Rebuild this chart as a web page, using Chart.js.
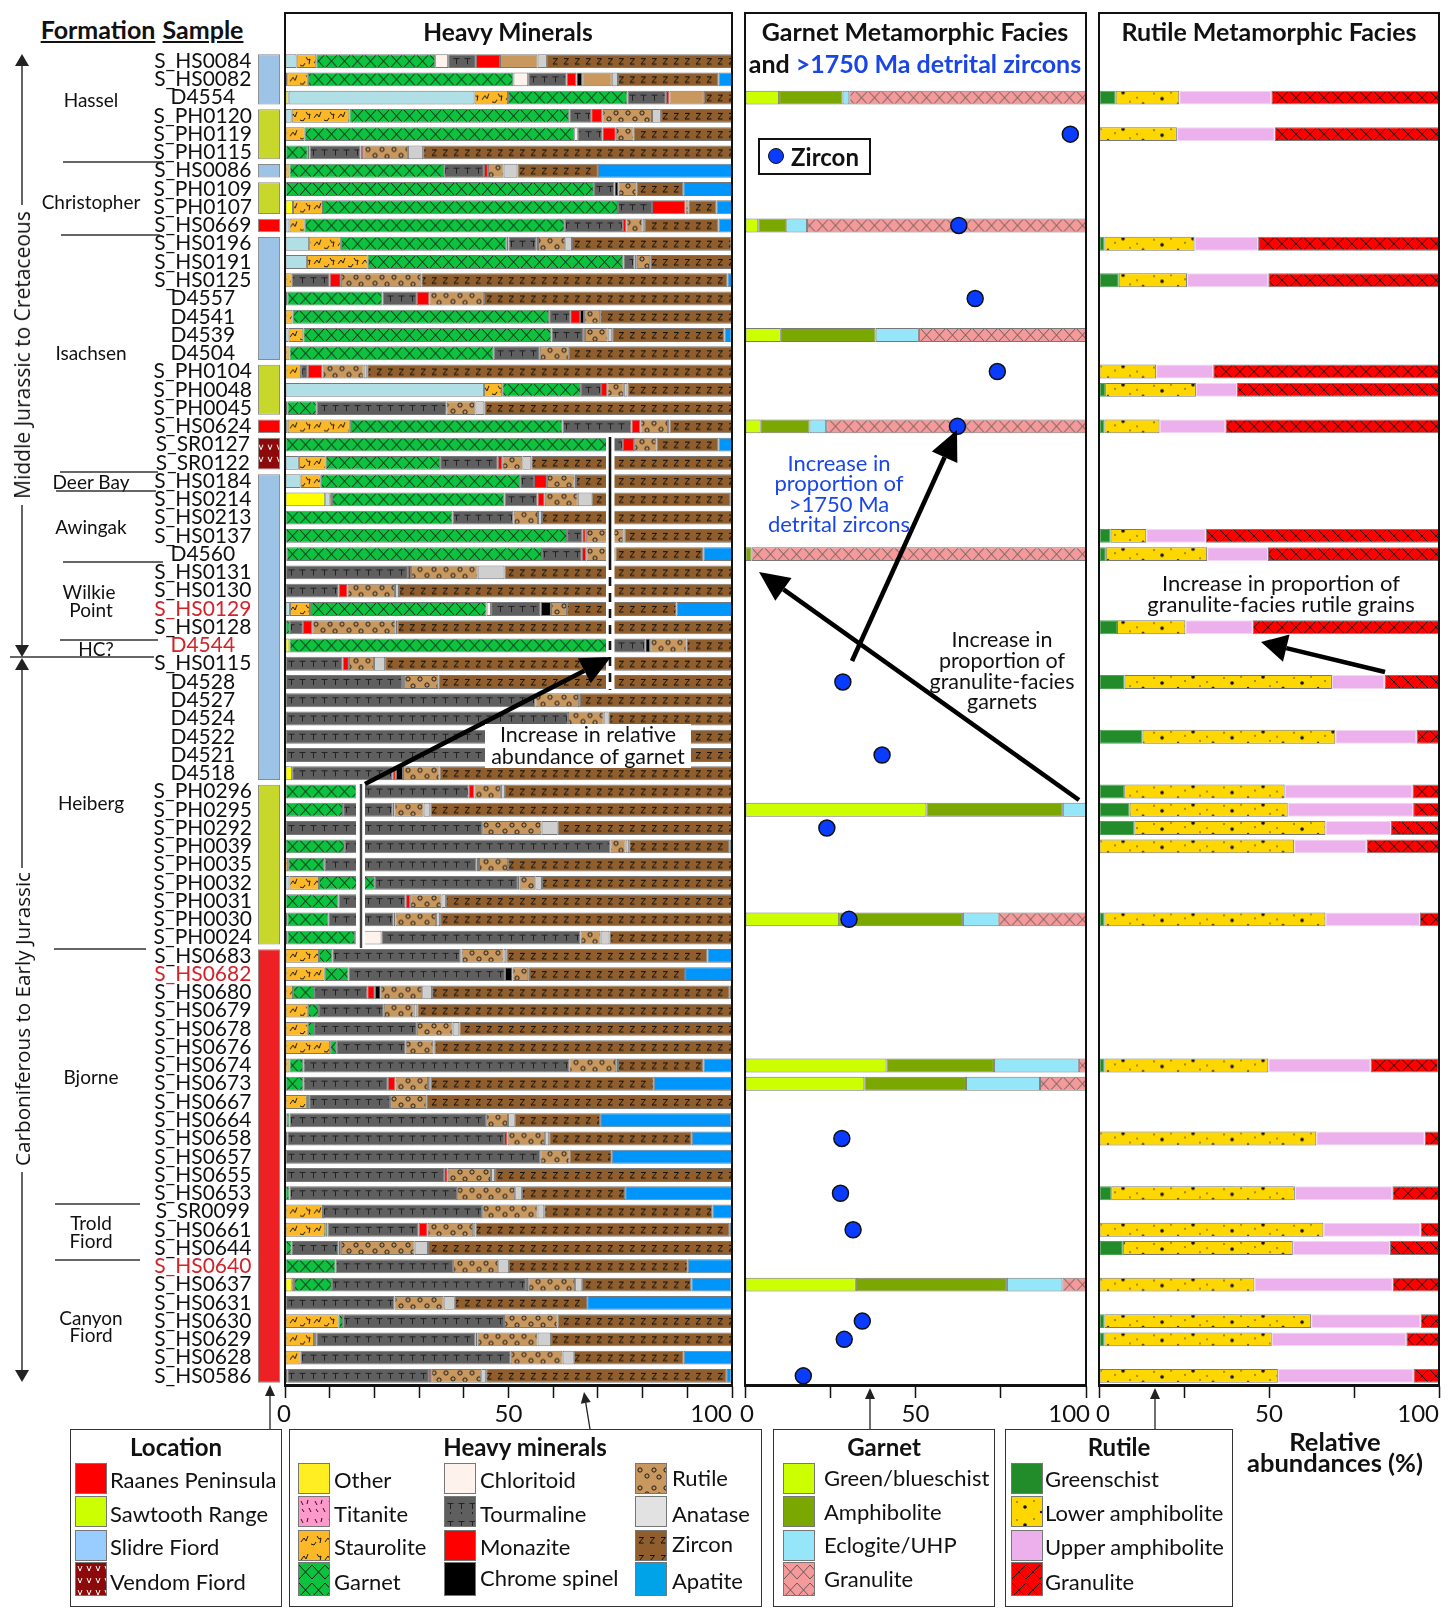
<!DOCTYPE html>
<html>
<head>
<meta charset="utf-8">
<title>Heavy minerals</title>
<script src="https://cdn.jsdelivr.net/npm/chart.js@4/dist/chart.umd.min.js"></script>
<style>
html, body { margin: 0; padding: 0; background: #fff; overflow: hidden; }
#page { position: relative; width: 1449px; height: 1618px; font-family: Lato, sans-serif; color: #111; overflow: hidden; }
#page canvas { position: absolute; }
.frame { position: absolute; border: 2.5px solid #111; box-sizing: border-box; }
.box { position: absolute; border: 1.5px solid #333; box-sizing: border-box; background: #fff; }
.txt { position: absolute; white-space: nowrap; transform: translate(-50%, -50%); }
.lab { position: absolute; white-space: nowrap; transform: translateY(-50%); font-size: 22px; }
#overlay { position: absolute; left: 0; top: 0; }
</style>
</head>
<body>
<div id="page">
    <canvas id="stripChart" width="24" height="1333" style="left:257px;top:52px"></canvas>
    <canvas id="heavyChart" width="760" height="1383" style="left:0;top:52px"></canvas>
    <canvas id="garnetChart" width="381" height="1383" style="left:725px;top:52px"></canvas>
    <canvas id="rutileChart" width="370" height="1383" style="left:1079px;top:52px"></canvas>
</div>
<script>
//---- samples, top to bottom
var samples = ['S_HS0084','S_HS0082','D4554','S_PH0120','S_PH0119','S_PH0115','S_HS0086','S_PH0109','S_PH0107','S_HS0669',
    'S_HS0196','S_HS0191','S_HS0125','D4557','D4541','D4539','D4504','S_PH0104','S_PH0048','S_PH0045',
    'S_HS0624','S_SR0127','S_SR0122','S_HS0184','S_HS0214','S_HS0213','S_HS0137','D4560','S_HS0131','S_HS0130',
    'S_HS0129','S_HS0128','D4544','S_HS0115','D4528','D4527','D4524','D4522','D4521','D4518',
    'S_PH0296','S_PH0295','S_PH0292','S_PH0039','S_PH0035','S_PH0032','S_PH0031','S_PH0030','S_PH0024','S_HS0683',
    'S_HS0682','S_HS0680','S_HS0679','S_HS0678','S_HS0676','S_HS0674','S_HS0673','S_HS0667','S_HS0664','S_HS0658',
    'S_HS0657','S_HS0655','S_HS0653','S_SR0099','S_HS0661','S_HS0644','S_HS0640','S_HS0637','S_HS0631','S_HS0630',
    'S_HS0629','S_HS0628','S_HS0586'];
var redSamples = ['S_HS0129','D4544','S_HS0682','S_HS0640'];

//---- heavy minerals, % per sample
var otherShare = [0,0,.8,0,0,0,0,0,1.8,0, 0,0,0,0,0,0,0,0,0,0, 0,0,0,0,9,0,0,0,0,0, 0,0,1,0,0,0,0,0,0,1.6,
    0,0,0,0,0,0,0,0,0,0, 0,0,0,0,0,0,0,0,0,0, 0,0,0,0,0,0,0,1.5,0,0, 0,0,0];
var paleShare = [2.6,.5,41.6,1.5,0,0,0,0,0,1, 5.4,4.9,0,0,0,.8,0,0,44.5,0, .6,0,3.1,3.5,1,0,0,0,0,0, 1.1,0,0,0,0,0,0,0,0,0,
    0,0,0,0,0,1,0,0,0,0, 0,0,0,0,0,0,0,0,0,0, 0,0,0,0,0,0,0,0,0,0, 0,0,0];
var stauroliteShare = [4.4,4.6,7.5,12.9,4.4,0,1,0,6.7,3.4, 7.1,13.6,1.5,.5,1.7,3.3,1,3.6,4.1,.5, 13.9,0,6,4.5,.5,0,0,.3,0,0, 4.5,0,0,0,0,0,0,0,0,0,
    0,0,0,0,.7,6.6,0,.5,.5,7.6, 8.9,1.8,5.1,5.1,10.1,1,0,4.9,.3,0, 0,0,0,8.5,9,0,0,.5,0,12, 6.5,3.5,0];
var garnetShare = [26.6,46,26.7,49.2,60.3,5.1,34.6,69.1,66,58.2, 37.1,57.2,0,21.3,57.4,55.5,45.7,0,17.6,6.6, 47.6,72.5,25.6,44.6,38.6,37.5,63.1,57.2,0,0, 39.5,1.1,72,0,0,0,0,0,0,0,
    16,13,0,13.4,8.2,12.5,12,9.2,15.2,3, 5.3,4.7,2.5,1.4,1.5,3.1,4.1,.5,.7,.5, 0,0,1,0,.5,1.5,11.3,8.5,0,1, .5,0,.5];
var chloritoidShare = [2.9,3.3,0,0,.8,.4,0,0,0,0, .4,0,0,0,0,0,0,0,0,0, 0,0,0,0,0,0,0,0,0,0, 1,0,0,0,0,0,0,0,0,0,
    0,0,0,0,0,0,0,0,5.9,0, 0,0,0,0,0,0,0,0,0,0, 0,0,0,0,0,0,0,0,0,0, 0,0,0];
var tourmalineShare = [6.2,8.6,8.6,4.9,5.5,11.4,8.9,4.6,7.6,13, 6.2,2.5,8.5,7.7,4.7,7.1,10.3,1.5,4.5,29, 15.4,3.1,12.9,3.1,7.4,13.6,3.4,8.9,27.5,12, 11.1,2.9,7.6,12.9,26.2,56,63.3,46,45,22.5,
    25.1,11.1,44.1,59.4,33.9,32,15,14.6,44.5,28.6, 35,11.9,14.5,23,15.4,59.5,18.9,18.1,44,48.5, 57.1,35.6,37.5,35.6,20.4,10.5,26.3,43.4,24.5,36, 35.6,47,31.7];
var monaziteShare = [5.4,2.2,.8,2.5,3,.6,.9,0,7.5,.8, .4,.5,2.5,2.8,2.2,.4,0,3.3,1.4,0, 2,2.5,1,2.9,1.6,0,.8,1,.7,2, 0,2.1,0,1.4,.4,0,0,0,0,.7,
    1.3,.4,0,0,.6,.4,1,.4,0,.3, 0,1.7,0,0,0,0,1.7,0,0,.8, 0,.8,0,0,2,0,0,0,0,0, 0,0,.5];
var chromeShare = [0,1.3,0,0,0,0,0,.9,0,0, 0,0,0,0,.9,0,0,0,0,0, 0,0,0,0,0,0,0,0,0,0, 2.3,0,1.1,0,0,0,0,0,0,1.6,
    0,0,0,0,0,0,0,0,0,0, 1.7,1.3,0,0,0,0,0,0,0,0, 0,0,0,0,0,.5,0,.5,0,0, .5,0,0];
var rutileShare = [0,0,0,11.1,4,10,3.5,4,.7,3.6, 6.1,3,18,12.2,3.6,5.1,6.5,9.2,3.7,6.5, 6.2,5,4.5,6.2,7.4,5.5,8.4,6.5,14.9,10.6, 3.6,18.6,8.1,5.6,7.7,9.8,8,8,9,8.2,
    5.9,6.5,13.3,3.4,6.5,3.5,7,9.1,4.5,9.4, 3.5,9.3,6.7,8,6.2,10.5,7.3,8.1,4.9,8.4, 6.6,9.7,13,12.4,10.2,16.5,10.1,10.5,11,12, 13.4,11.6,11.2];
var plainRutileShare = [8.4,6.6,7.7,0,0,0,0,0,0,0, 0,0,0,0,0,0,0,0,0,0, 0,0,0,0,0,0,0,0,0,0, 0,0,0,0,0,0,0,0,0,0,
    0,0,0,0,0,0,0,0,0,0, 0,0,0,0,0,0,0,0,0,0, 0,0,0,0,0,0,0,0,0,0, 0,0,0];
var anataseShare = [2.1,1.4,0,2,0,3.4,3.1,0,0,.5, 1.5,0,0,0,0,1,0,.8,.8,2, .3,0,2,.3,3.1,.9,.3,0,6,.9, 0,.4,0,2.5,0,.2,1.1,1,1,0,
    .9,1.5,3.6,.8,0,1.5,1,.9,2,.6, 0,2.2,.8,1.5,.3,.4,.5,0,1.5,.9, 0,.9,1.5,1.5,.5,3,2.4,1.5,2.5,0, 3,2.5,1.1];
var zirconShare = [41.5,22.5,6.3,15.9,22,69.1,18,10.5,6.2,16.5, 35.7,18.3,68.5,55.5,29.5,25.1,36.5,81.6,23.4,55.4, 14,13.9,44.9,35.4,31,42.5,24,19.7,50.9,74.5, 24.5,74.9,10.2,77.6,65.7,34,27.6,45,45,65.4,
    50.8,67.5,39,22.5,50.1,42.5,64,65.3,27.4,45, 35.1,66.6,70.4,61,66.5,19.1,50,68.4,19.1,31.9, 9.4,53,23.1,37.6,56.9,68,40,24.5,29.6,39, 40.5,24.6,53.7];
var apatiteShare = [0,3,0,0,0,0,30,10.9,3.5,3, 0,0,1,0,0,1.6,0,0,0,0, 0,3,0,0,.4,0,0,6.4,0,0, 12.4,0,0,0,0,0,0,0,0,0,
    0,0,0,.5,0,0,0,0,0,5.5, 10.5,.4,0,0,0,6.4,17.5,0,29.4,9, 26.9,0,23.9,4.4,.5,0,9.9,9,32.4,0, 0,10.8,1.2];

//---- garnet metamorphic facies, % per sample
var garnetSamples = ['D4554','S_HS0669','D4539','S_HS0624','D4560','S_PH0295','S_PH0030','S_HS0674','S_HS0673','S_HS0637'];
var garnetBlueschist = [10,3.9,10.5,4.6,0,53.2,27.6,41.5,35,32.5];
var garnetAmphibolite = [18.6,8.2,27.8,14.3,1.9,40,36.3,31.5,29.8,44.3];
var garnetEclogite = [2,6.1,12.7,4.9,0,6.8,10.5,24.9,21.7,16.3];
var garnetGranulite = [69.4,81.8,49,76.2,98.1,0,25.6,2.1,13.5,6.9];

//---- >1750 Ma detrital zircons, %
var zirconSamples = ['S_PH0119','S_HS0669','D4557','S_PH0104','S_HS0624','D4528','D4521','S_PH0292','S_PH0030','S_HS0658','S_HS0653','S_HS0661','S_HS0630','S_HS0629','S_HS0586'];
var oldZircon = [95.4,62.7,67.5,74,62.3,28.7,40.2,24,30.5,28.4,28,31.7,34.4,29.1,17.1];

//---- rutile metamorphic facies, % per sample
var rutileSamples = ['D4554','S_PH0119','S_HS0196','S_HS0125','S_PH0104','S_PH0048','S_HS0624','S_HS0137','D4560','S_HS0128','D4528','D4522',
    'S_PH0296','S_PH0295','S_PH0292','S_PH0039','S_PH0030','S_HS0674','S_HS0658','S_HS0653','S_HS0661','S_HS0644','S_HS0637','S_HS0630','S_HS0629','S_HS0586'];
var rutileGreenschist = [4.9,0,1.6,5.8,0,1.8,1.6,3.4,2,5.3,7.5,12.8, 7.4,9,10.4,0,1.6,1.6,0,3.6,0,7,0,1.6,1.6,0];
var rutileLower = [18.7,22.9,26.5,20.1,16.8,26.7,16.2,10.5,29.8,20.1,61,56.7, 47.2,46.5,56.2,57.4,65,48.2,63.9,54,66,50,45.7,60.8,49.2,52.6];
var rutileUpper = [27.1,28.8,18.7,23.9,16.8,12.1,19.4,17.5,17.9,19.8,15.5,23.9, 37.6,36.9,19.3,21.3,27.8,30.1,31.9,28.7,28.6,28.6,40.7,32.2,39.6,39.9];
var rutileGranulite = [49.3,48.3,53.2,50.2,66.4,59.4,62.8,68.6,50.3,54.8,16,6.6, 7.8,7.6,14.1,21.3,5.6,20,4.2,13.7,5.4,14.4,13.6,5.4,9.6,7.5];

//---- location strip, row spans
var locationStart = [0,3,6,7,9,10,17,20,21,23,40,49];
var locationEnd = [3,6,7,9,10,17,20,21,23,40,49,73];
var locationKind = ['slidre','sawtooth','slidre','sawtooth','raanes','slidre','sawtooth','raanes','vendom','slidre','sawtooth','bjorne'];

var rowH = 1333 / 73;

function tile(w, h, bg, draw) {
    var c = document.createElement('canvas');
    c.width = w;
    c.height = h;
    var g = c.getContext('2d');
    g.fillStyle = bg;
    g.fillRect(0, 0, w, h);
    g.strokeStyle = '#1a1a1a';
    g.fillStyle = '#111';
    g.lineWidth = 1;
    if (draw) draw(g);
    return c;
}
function poly(g, pts) {
    g.beginPath();
    g.moveTo(pts[0], pts[1]);
    for (var i = 2; i < pts.length; i += 2) g.lineTo(pts[i], pts[i + 1]);
    g.stroke();
}
function cross(g, w) {
    poly(g, [0, 2, w, 16]);
    poly(g, [w, 2, 0, 16]);
}
function dots(g, list) {
    list.forEach(function (d) {
        g.beginPath();
        g.arc(d[0], d[1], d[2], 0, Math.PI * 2);
        g.fill();
    });
}
function rings(g, list) {
    list.forEach(function (d) {
        g.beginPath();
        g.arc(d[0], d[1], 2.1, 0, Math.PI * 2);
        g.stroke();
    });
}
var tiles = {
    garnet: tile(13, 18, '#0cc23e', function (g) { cross(g, 13); }),
    tourmaline: tile(11, 18, '#5f5f5f', function (g) {
        g.strokeStyle = '#222';
        poly(g, [2.5, 6.5, 8.5, 6.5]);
        poly(g, [5.5, 6.5, 5.5, 12]);
        poly(g, [5.5, 15, 5.5, 17]);
    }),
    zircon: tile(11, 18, '#8f5e2c', function (g) {
        g.strokeStyle = '#111';
        poly(g, [3, 6.5, 7.5, 6.5, 3, 12, 7.5, 12]);
    }),
    rutile: tile(26, 18, '#c8985f', function (g) {
        rings(g, [[4, 6], [11, 12], [18, 6], [23, 13]]);
    }),
    staurolite: tile(24, 18, '#fcb827', function (g) {
        poly(g, [2, 11, 5, 7, 7, 10, 9, 5]);
        poly(g, [12, 13, 15, 14, 17, 11]);
        poly(g, [18, 5, 20, 8, 22, 7, 21, 12]);
    }),
    titanite: tile(14, 18, '#ff99cc', function (g) {
        poly(g, [2, 4, 4, 8]);
        poly(g, [9, 3, 8, 7]);
        poly(g, [3, 12, 5, 15]);
        poly(g, [10, 11, 12, 15]);
    }),
    garnetGranulite: tile(13, 18, '#f59a9a', function (g) {
        g.strokeStyle = '#555';
        g.lineWidth = .9;
        cross(g, 13);
    }),
    rutileGranulite: tile(14, 18, '#ff0000', function (g) { cross(g, 14); }),
    lower: tile(70, 18, '#ffd700', function (g) {
        dots(g, [[5, 5, .7], [13, 10, 1.8], [22, 4, .7], [29, 15, 1.2], [36, 8, .7], [44, 4, 1.8], [51, 13, .7], [58, 9, .7], [64, 15, 1.5]]);
    }),
    vendom: tile(9, 12, '#8c0a0a', function (g) {
        g.strokeStyle = '#fff';
        poly(g, [2, 3, 4, 8, 6, 3]);
    })
};
function pattern(name) {
    var p = document.createElement('canvas').getContext('2d').createPattern(tiles[name], 'repeat');
    // rows are not a whole number of pixels, keep the motif inside every bar
    p.setTransform(new DOMMatrix().scale(1, rowH / 18));
    return p;
}

var axisLabelPlugin = {
    id: 'axisLabels',
    afterDraw: function (chart, args, opts) {
        var xs = chart.scales.x, g = chart.ctx;
        g.save();
        g.font = '24px Lato';
        g.fillStyle = '#111';
        g.textBaseline = 'middle';
        [0, 50, 100].forEach(function (v) {
            g.textAlign = v === 100 ? 'right' : 'center';
            var shift = v === 100 ? opts.lastShift : (v === 0 ? opts.firstShift : 0);
            g.fillText(String(v), xs.getPixelForValue(v) + shift, xs.top + 29);
        });
        g.restore();
    }
};

function xAxis(step) {
    return {
        type: 'linear',
        stacked: true,
        min: 0,
        max: 100,
        border: { display: true, color: '#111', width: 2.5 },
        grid: { drawOnChartArea: false, drawTicks: true, tickLength: 13, tickColor: '#111', tickWidth: 1.5 },
        ticks: { display: false, stepSize: step }
    };
}

function stackSet(label, data, fill, border, width) {
    return {
        label: label,
        data: data,
        backgroundColor: fill,
        borderColor: border || 'rgba(75,75,75,.75)',
        borderWidth: width === undefined ? 1 : width,
        borderSkipped: false,
        barPercentage: 0.76,
        categoryPercentage: 1,
        order: 1
    };
}
function bySample(names, values) {
    return names.map(function (s, i) { return { x: values[i], y: s }; });
}
function baseOptions(step, firstShift, lastShift) {
    return {
        indexAxis: 'y',
        responsive: false,
        animation: false,
        events: [],
        plugins: { legend: { display: false }, tooltip: { enabled: false }, axisLabels: { firstShift: firstShift, lastShift: lastShift } },
        scales: {
            x: xAxis(step),
            y: { type: 'category', labels: samples, stacked: true, display: false, grid: { display: false } }
        }
    };
}

// heavy minerals
var heavyOptions = baseOptions(10, -1, 0);
heavyOptions.layout = { padding: { right: 28, bottom: 37 } };
heavyOptions.scales.y = {
    type: 'category',
    stacked: true,
    grid: { display: false, drawTicks: false },
    border: { display: false },
    ticks: {
        autoSkip: false,
        crossAlign: 'center',
        padding: 33,
        font: { family: 'Lato', size: 21 },
        color: function (ctx) { return redSamples.indexOf(samples[ctx.index]) >= 0 ? '#d2232a' : '#111'; }
    },
    afterFit: function (scale) {
        // the tick padding is only meant sideways
        scale.width = 285;
        scale.paddingTop = 0;
        scale.paddingBottom = 0;
    }
};
new Chart(document.getElementById('heavyChart'), {
    type: 'bar',
    plugins: [axisLabelPlugin],
    data: {
        labels: samples,
        datasets: [
            stackSet('Other', otherShare, '#ffff00'),
            stackSet('Pale', paleShare, '#b0e0e6'),
            stackSet('Staurolite', stauroliteShare, pattern('staurolite')),
            stackSet('Garnet', garnetShare, pattern('garnet')),
            stackSet('Chloritoid', chloritoidShare, '#fdf3ec'),
            stackSet('Tourmaline', tourmalineShare, pattern('tourmaline')),
            stackSet('Monazite', monaziteShare, '#ff0000'),
            stackSet('Chrome spinel', chromeShare, '#000'),
            stackSet('Rutile', rutileShare, pattern('rutile')),
            stackSet('Rutile plain', plainRutileShare, '#c8985f'),
            stackSet('Anatase', anataseShare, '#cfcfcf'),
            stackSet('Zircon', zirconShare, pattern('zircon')),
            stackSet('Apatite', apatiteShare, '#0095fa')
        ]
    },
    options: heavyOptions
});

// garnet facies + zircon points
var garnetOptions = baseOptions(25, 2, 4);
garnetOptions.layout = { autoPadding: false, padding: { left: 20, right: 20, bottom: 37 } };
new Chart(document.getElementById('garnetChart'), {
    type: 'bar',
    plugins: [axisLabelPlugin],
    data: {
        labels: samples,
        datasets: [
            stackSet('Green/blueschist', bySample(garnetSamples, garnetBlueschist), '#ccff00'),
            stackSet('Amphibolite', bySample(garnetSamples, garnetAmphibolite), '#7ba800'),
            stackSet('Eclogite/UHP', bySample(garnetSamples, garnetEclogite), '#96e6fa'),
            stackSet('Granulite', bySample(garnetSamples, garnetGranulite), pattern('garnetGranulite')),
            {
                type: 'line',
                indexAxis: 'y',
                label: 'Zircon',
                data: bySample(zirconSamples, oldZircon),
                showLine: false,
                pointRadius: 8,
                pointBackgroundColor: '#0a3cff',
                pointBorderColor: '#111',
                pointBorderWidth: 1.5,
                order: 0
            }
        ]
    },
    options: garnetOptions
});

// rutile facies
var rutileOptions = baseOptions(25, 4, 0);
rutileOptions.layout = { padding: { left: 20, right: 10, bottom: 37 } };
new Chart(document.getElementById('rutileChart'), {
    type: 'bar',
    plugins: [axisLabelPlugin],
    data: {
        labels: samples,
        datasets: [
            stackSet('Greenschist', bySample(rutileSamples, rutileGreenschist), '#228b2a', 'rgba(34,139,42,.8)'),
            stackSet('Lower amphibolite', bySample(rutileSamples, rutileLower), pattern('lower')),
            stackSet('Upper amphibolite', bySample(rutileSamples, rutileUpper), '#ecb0ec', 'rgba(236,176,236,.5)'),
            stackSet('Granulite', bySample(rutileSamples, rutileGranulite), pattern('rutileGranulite'))
        ]
    },
    options: rutileOptions
});

// location strip
var stripColors = { slidre: '#9dc3e6', sawtooth: '#c8d72b', raanes: '#ff0000', bjorne: '#ed2024' };
new Chart(document.getElementById('stripChart'), {
    type: 'bar',
    data: {
        labels: ['Location'],
        datasets: locationKind.map(function (kind, i) {
            return {
                label: kind,
                data: [[locationStart[i] + 0.13, locationEnd[i] - 0.13]],
                backgroundColor: kind === 'vendom' ? pattern('vendom') : stripColors[kind],
                borderColor: '#8a8a8a',
                borderWidth: 1,
                borderSkipped: false,
                grouped: false,
                barPercentage: 0.92,
                categoryPercentage: 1
            };
        })
    },
    options: {
        responsive: false,
        animation: false,
        events: [],
        layout: { padding: 0 },
        plugins: { legend: { display: false }, tooltip: { enabled: false } },
        scales: {
            x: { display: false },
            y: { display: false, min: 0, max: 73, reverse: true }
        }
    }
});

//---- everything that is not a mark: frames, titles, notes, legends
var page = document.getElementById('page');

function addDiv(cls, style, html) {
    var d = document.createElement('div');
    d.className = cls;
    d.style.cssText = style;
    if (html) d.innerHTML = html;
    page.appendChild(d);
    return d;
}
function text(x, y, html, size, extra) {
    addDiv('txt', 'left:' + x + 'px;top:' + y + 'px;font-size:' + size + 'px;' + (extra || ''), html);
}
function swatch(x, y, w, h, fill) {
    var c = document.createElement('canvas');
    c.width = w;
    c.height = h;
    c.style.cssText = 'left:' + x + 'px;top:' + y + 'px;z-index:3;outline:1px solid #777';
    var g = c.getContext('2d');
    g.fillStyle = tiles[fill] ? g.createPattern(tiles[fill], 'repeat') : fill;
    g.fillRect(0, 0, w, h);
    page.appendChild(c);
}
function label(x, y, str) {
    addDiv('lab', 'left:' + x + 'px;top:' + y + 'px;z-index:3', str);
}

addDiv('frame', 'left:284px;top:12px;width:449px;height:1375px');
addDiv('frame', 'left:744px;top:12px;width:343px;height:1375px');
addDiv('frame', 'left:1098px;top:12px;width:342px;height:1375px');

var bold = 'font-weight:700;';
text(98, 29, 'Formation', 25, bold + 'text-decoration:underline');
text(203, 29, 'Sample', 25, bold + 'text-decoration:underline');
text(508, 31, 'Heavy Minerals', 24.5, bold);
text(915, 31, 'Garnet Metamorphic Facies', 25, bold);
text(915, 63, 'and <span style="color:#1a46e8">&gt;1750 Ma detrital zircons</span>', 25, bold);
text(1269, 31, 'Rutile Metamorphic Facies', 25, bold);

var formationNames = [['Hassel', 91, 99], ['Christopher', 91, 201], ['Isachsen', 91, 352], ['Deer Bay', 91, 481], ['Awingak', 91, 526],
    ['Wilkie', 89, 591], ['Point', 91, 609], ['HC?', 96, 648], ['Heiberg', 91, 802], ['Bjorne', 91, 1076],
    ['Trold', 91, 1222], ['Fiord', 91, 1240], ['Canyon', 91, 1317], ['Fiord', 91, 1334]];
formationNames.forEach(function (f) { text(f[1], f[2], f[0], 19); });

text(22, 355, 'Middle Jurassic to Cretaceous', 21, 'font-family:\'Open Sans\';transform:translate(-50%,-50%) rotate(-90deg)');
text(22, 1019, 'Carboniferous to Early Jurassic', 20.7, 'font-family:\'Open Sans\';transform:translate(-50%,-50%) rotate(-90deg)');

// arrows and lines
function arrowSvg(x1, y1, x2, y2, w, len, half, col) {
    var a = Math.atan2(y2 - y1, x2 - x1), bx = x2 - len * Math.cos(a), by = y2 - len * Math.sin(a);
    var nx = -Math.sin(a) * half, ny = Math.cos(a) * half;
    return '<line x1="' + x1 + '" y1="' + y1 + '" x2="' + bx + '" y2="' + by + '" stroke="' + col + '" stroke-width="' + w + '"/>' +
        '<polygon fill="' + col + '" points="' + x2 + ',' + y2 + ' ' + (bx + nx) + ',' + (by + ny) + ' ' + (bx - nx) + ',' + (by - ny) + '"/>';
}
function lineSvg(x1, y1, x2, y2, col, w, dash) {
    return '<line x1="' + x1 + '" y1="' + y1 + '" x2="' + x2 + '" y2="' + y2 + '" stroke="' + col + '" stroke-width="' + w + '"' + (dash ? ' stroke-dasharray="' + dash + '"' : '') + '/>';
}
var svg = '';
var rules = [[63, 163, 162], [61, 160, 235], [60, 158, 472], [56, 156, 491], [63, 163, 562], [60, 158, 640], [10, 154, 657], [54, 146, 949], [55, 140, 1204], [55, 140, 1260]];
rules.forEach(function (r) { svg += lineSvg(r[0], r[2], r[1], r[2], '#333', 1.5); });
svg += arrowSvg(22, 205, 22, 54, 1.4, 12, 7, '#222');
svg += arrowSvg(22, 505, 22, 657, 1.4, 12, 7, '#222');
svg += arrowSvg(22, 868, 22, 658, 1.4, 12, 7, '#222');
svg += arrowSvg(22, 1172, 22, 1382, 1.4, 12, 7, '#222');

// white breaks through the heavy mineral bars
svg += '<rect x="606" y="437" width="8.5" height="253" fill="#fff"/>';
svg += lineSvg(610, 437, 610, 561, '#111', 2.6);
svg += lineSvg(610, 561, 610, 690, '#111', 2.6, '9 7');
svg += '<rect x="356" y="784" width="9" height="164" fill="#fff"/>';
svg += lineSvg(361, 784, 361, 948, '#444', 2.4);

svg += arrowSvg(365, 784, 611, 657, 4.6, 30, 14, '#000');
svg += arrowSvg(852, 661, 957, 430, 4.6, 30, 14, '#000');
svg += arrowSvg(1079, 800, 759, 572, 4.6, 30, 14, '#000');
svg += arrowSvg(1385, 672, 1261, 642, 4.6, 26, 14, '#000');

// leaders from the legend boxes
svg += arrowSvg(270, 1429, 270, 1385, 1.3, 11, 5, '#222');
svg += arrowSvg(590, 1429, 584, 1392, 1.3, 11, 5, '#222');
svg += arrowSvg(870, 1429, 870, 1388, 1.3, 11, 5, '#222');
svg += arrowSvg(1155, 1429, 1155, 1388, 1.3, 11, 5, '#222');
var overlay = addDiv('', 'position:absolute;left:0;top:0;width:1449px;height:1618px;z-index:2');
overlay.innerHTML = '<svg id="overlay" width="1449" height="1618">' + svg + '</svg>';

// notes
addDiv('', 'position:absolute;left:485px;top:724px;width:206px;height:44px;background:#fff;z-index:3');
function note(x, ys, lines, size, col) {
    lines.forEach(function (l, i) { text(x, ys[i], l, size, 'z-index:4;' + (col ? 'color:' + col : '')); });
}
note(588, [734, 756], ['Increase in relative', 'abundance of garnet'], 21.5);
note(839, [462, 482, 503, 523], ['Increase in', 'proportion of', '&gt;1750 Ma', 'detrital zircons'], 22, '#1a46e8');
note(1002, [639, 660, 681, 701], ['Increase in', 'proportion of', 'granulite-facies', 'garnets'], 21.5);
note(1281, [582, 603], ['Increase in proportion of', 'granulite-facies rutile grains'], 22);

// zircon key
addDiv('box', 'left:758px;top:138px;width:113px;height:37px;border-width:2px;border-color:#111;z-index:3');
addDiv('', 'position:absolute;left:768px;top:148px;width:16px;height:16px;border-radius:50%;background:#0a3cff;border:1.5px solid #111;box-sizing:border-box;z-index:4');
text(825, 156, 'Zircon', 24, 'z-index:4;font-weight:700');

// bottom legends
addDiv('box', 'left:70px;top:1429px;width:212px;height:178px');
addDiv('box', 'left:289px;top:1429px;width:473px;height:178px');
addDiv('box', 'left:773px;top:1429px;width:222px;height:178px');
addDiv('box', 'left:1005px;top:1429px;width:228px;height:178px');
[[176, 'Location'], [525, 'Heavy minerals'], [884, 'Garnet'], [1119, 'Rutile']].forEach(function (t) {
    text(t[0], 1446, t[1], 24, 'z-index:3;font-weight:700');
});
var swatchTop = [1464, 1497, 1531, 1563];
var swatchTall = [29, 29, 29, 32];

function legendColumn(sx, tx, names, fills, ys) {
    names.forEach(function (n, i) {
        swatch(sx, swatchTop[i], 30, swatchTall[i], fills[i]);
        label(tx, ys[i], n);
    });
}
legendColumn(76, 110, ['Raanes Peninsula', 'Sawtooth Range', 'Slidre Fiord', 'Vendom Fiord'], ['#ff0000', '#ccff00', '#99ccff', 'vendom'], [1479, 1513, 1546, 1581]);
legendColumn(299, 334, ['Other', 'Titanite', 'Staurolite', 'Garnet'], ['#ffee22', 'titanite', 'staurolite', 'garnet'], [1479, 1513, 1546, 1581]);
legendColumn(445, 480, ['Chloritoid', 'Tourmaline', 'Monazite', 'Chrome spinel'], ['#fdf3ec', 'tourmaline', '#ff0000', '#000'], [1479, 1513, 1546, 1577]);
legendColumn(636, 672, ['Rutile', 'Anatase', 'Zircon', 'Apatite'], ['rutile', '#e2e2e2', 'zircon', '#00a2e8'], [1477, 1513, 1543, 1580]);
legendColumn(784, 824, ['Green/blueschist', 'Amphibolite', 'Eclogite/UHP', 'Granulite'], ['#ccff00', '#7ba800', '#96e6fa', 'garnetGranulite'], [1477, 1511, 1544, 1578]);
legendColumn(1012, 1045, ['Greenschist', 'Lower amphibolite', 'Upper amphibolite', 'Granulite'], ['#228b2a', 'lower', '#ecb0ec', 'rutileGranulite'], [1478, 1512, 1546, 1581]);

text(1335, 1441, 'Relative', 25.5, bold);
text(1335, 1462, 'abundances (%)', 25.5, bold);
</script>
</body>
</html>
